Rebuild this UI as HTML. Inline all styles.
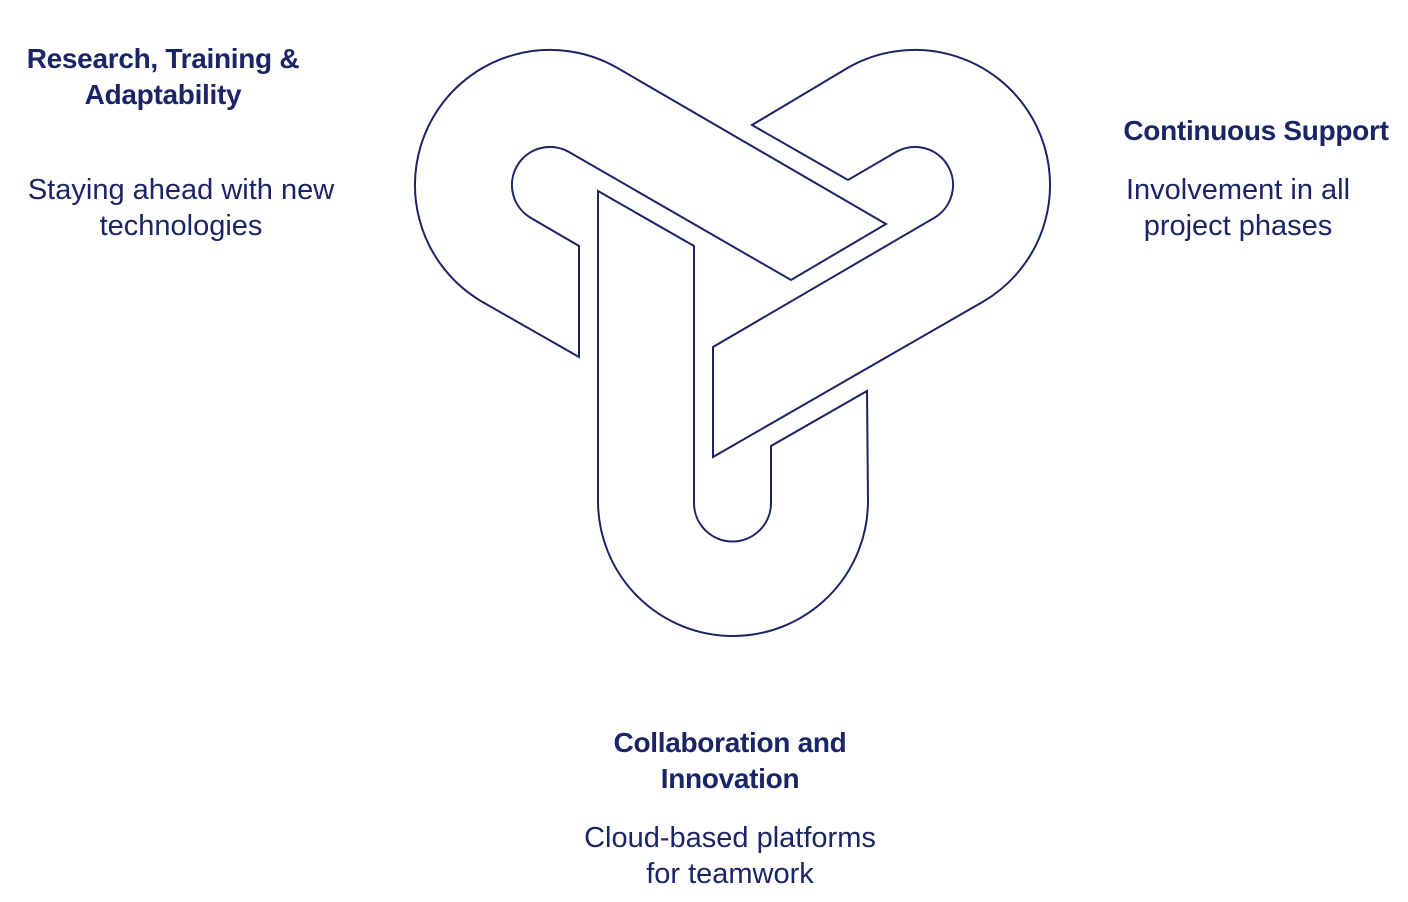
<!DOCTYPE html>
<html><head><meta charset="utf-8"><style>
body{margin:0;width:1408px;height:902px;background:#fff;position:relative;overflow:hidden;font-family:"Liberation Sans",sans-serif;color:#1b2566}
.t{position:absolute;text-align:center;line-height:36px;font-size:29px}
.b{font-weight:bold;font-size:28px;letter-spacing:-0.3px}
</style></head><body>
<svg width="1408" height="902" style="position:absolute;left:0;top:0" fill="none" stroke="#1b2566" stroke-width="2" stroke-linejoin="miter">
<path d="M598,191 L598,501 A135,135 0 0 0 868,501 L867,391 L771,446 L771,503 A38,38 0 0 1 694,503 L694,246 Z"/>
<path d="M579,357 L482.5,302 A135,135 0 0 1 617.5,68 L886,224 L791,280 L569,152 A38,38 0 0 0 531,218 L579,246 Z"/>
<path d="M752,125 L847.5,68 A135,135 0 0 1 982.5,302 L713,457 L713,347 L934,218 A38,38 0 0 0 896,152 L848,180 Z"/>
</svg>
<div class="t b" style="left:0px;width:326px;top:41px">Research, Training &amp;<br>Adaptability</div>
<div class="t" style="left:0px;width:362px;top:172px">Staying ahead with new<br>technologies</div>
<div class="t b" style="left:1100px;width:312px;top:113px">Continuous Support</div>
<div class="t" style="left:1080px;width:316px;top:172px">Involvement in all<br>project phases</div>
<div class="t b" style="left:530px;width:400px;top:725px">Collaboration and<br>Innovation</div>
<div class="t" style="left:530px;width:400px;top:820px">Cloud-based platforms<br>for teamwork</div>
</body></html>
